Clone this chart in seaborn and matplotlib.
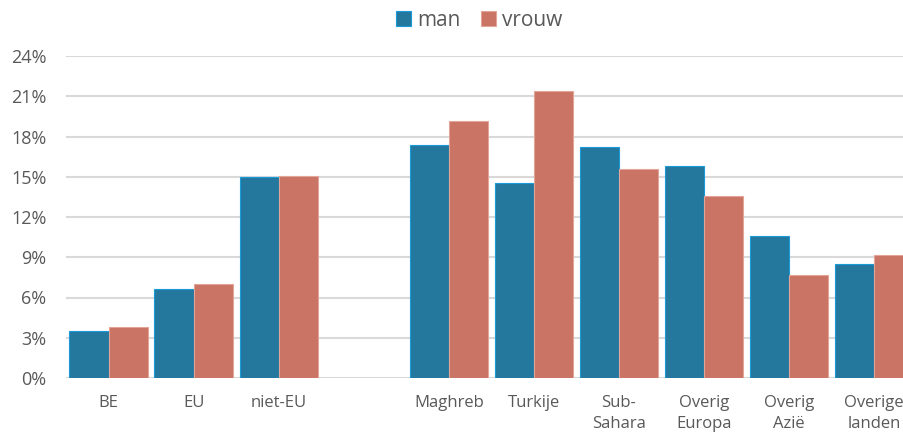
import numpy as np
import pandas as pd
import matplotlib
matplotlib.use("Agg")
import matplotlib.pyplot as plt
import seaborn as sns
from matplotlib.ticker import MultipleLocator, FuncFormatter

# categories (the blank one is the gap between the two groups)
categories = ["BE", "EU", "niet-EU", " ", "Maghreb", "Turkije", "Sub-\nSahara",
              "Overig\nEuropa", "Overig\nAzië", "Overige\nlanden"]
man = [3.5, 6.6, 15.0, np.nan, 17.4, 14.5, 17.2, 15.8, 10.6, 8.5]
vrouw = [3.8, 7.0, 15.05, np.nan, 19.15, 21.4, 15.55, 13.6, 7.7, 9.15]
series = ["man", "vrouw"]

colors = {"man": "#24789E", "vrouw": "#C97464"}
edges = {"man": "#1A9AD6", "vrouw": "#E3A598"}
text_col = "#595959"

df = pd.DataFrame({
    "land": categories * 2,
    "geslacht": ["man"] * len(categories) + ["vrouw"] * len(categories),
    "waarde": man + vrouw,
})

sns.set_style("white")
plt.rcParams["font.family"] = ["Open Sans", "DejaVu Sans"]

fig = plt.figure(figsize=(9.04, 4.33), dpi=100)
ax = fig.add_axes([66 / 904, 1 - 378 / 433, 1 - 66 / 904 + 0.014, (378 - 56) / 433])

sns.barplot(data=df, x="land", y="waarde", hue="geslacht", order=categories,
            hue_order=series, palette=colors, width=0.92, gap=0, ax=ax,
            saturation=1, legend=False)

for cont, s in zip(ax.containers, series):
    for p in cont:
        p.set_edgecolor(edges[s])
        p.set_linewidth(0.8)

ax.set_ylim(0, 24)
ax.yaxis.set_major_locator(MultipleLocator(3))
ax.yaxis.set_major_formatter(FuncFormatter(lambda v, _: f"{v:.0f}%"))
ax.grid(axis="y", color="#D9D9D9", linewidth=1.5)
ax.set_axisbelow(True)
ax.set_xlim(-0.5, len(categories) - 0.5)
for sp in ax.spines.values():
    sp.set_visible(False)
ax.set_xlabel("")
ax.set_ylabel("")
ax.tick_params(axis="y", length=0, pad=14, labelsize=13, labelcolor=text_col)
ax.tick_params(axis="x", length=0, pad=12, labelsize=12, labelcolor=text_col)
for lbl in ax.get_xticklabels():
    lbl.set_linespacing(1.45)

handles = [plt.Rectangle((0, 0), 1, 1, facecolor=colors[s], edgecolor=edges[s], linewidth=0.8)
           for s in series]
fig.legend(handles, series, loc="center", bbox_to_anchor=(0.53, 0.953), ncol=2,
           frameon=False, fontsize=15, labelcolor=text_col, handlelength=0.7,
           handleheight=0.7, handletextpad=0.3, columnspacing=1.0)

fig.savefig("out.png", dpi=100)
